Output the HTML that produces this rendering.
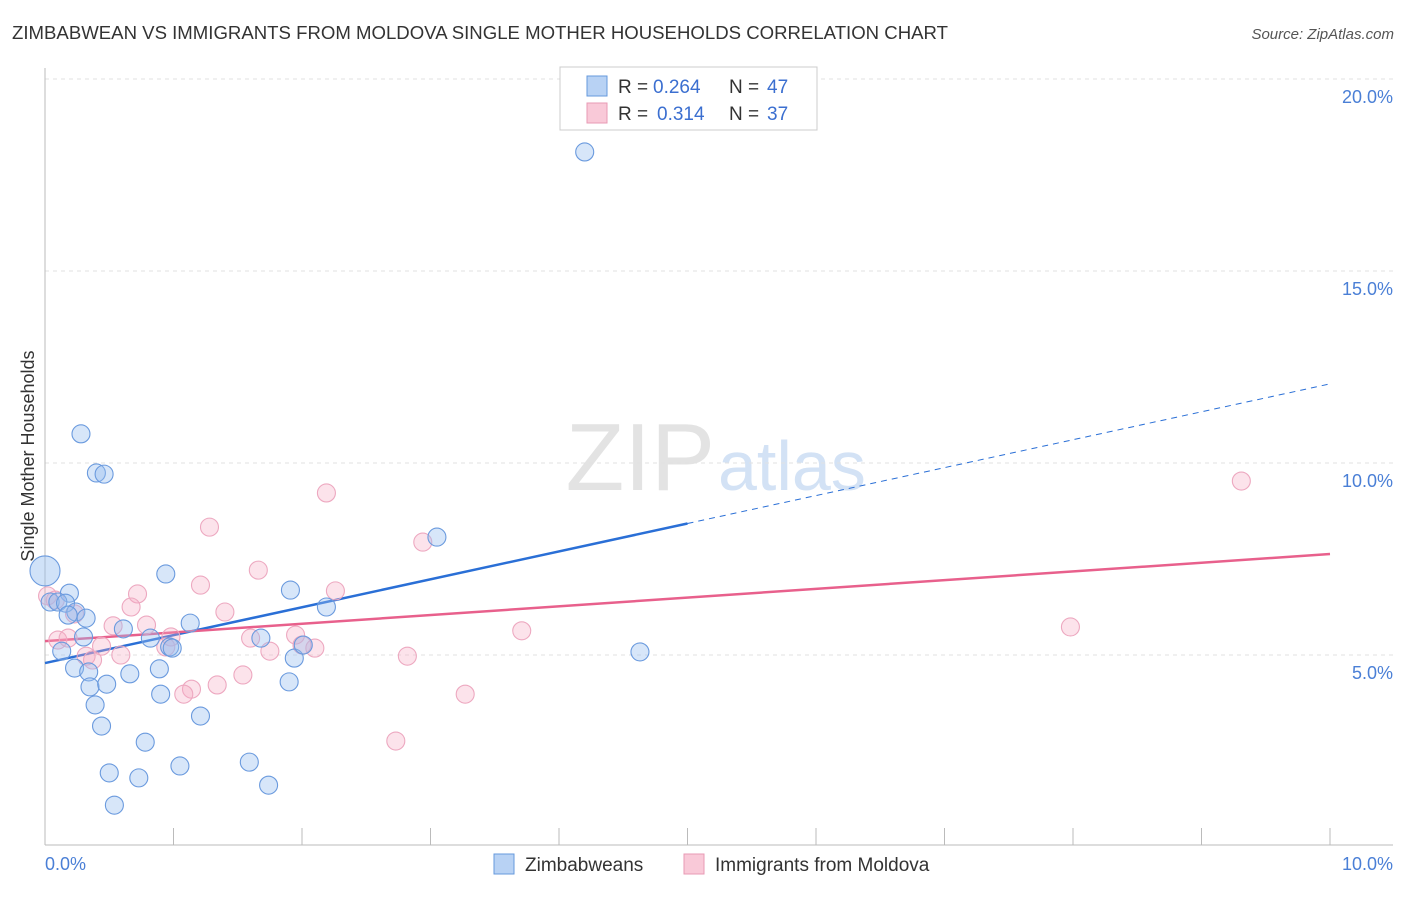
<!DOCTYPE html>
<html><head><meta charset="utf-8"><style>
body{margin:0;background:#fff;font-family:"Liberation Sans",sans-serif;}
svg text{font-family:"Liberation Sans",sans-serif;}
</style></head><body>
<svg id="c" width="1406" height="892" xmlns="http://www.w3.org/2000/svg">
<text x="12" y="39" font-size="18.6" fill="#333">ZIMBABWEAN VS IMMIGRANTS FROM MOLDOVA SINGLE MOTHER HOUSEHOLDS CORRELATION CHART</text>
<text x="1394" y="39" font-size="15" fill="#555" text-anchor="end" font-style="italic">Source: ZipAtlas.com</text>
<text x="715" y="490" font-size="96" fill="#e3e3e3" text-anchor="end" font-family="Liberation Serif">ZIP</text>
<text x="718" y="490" font-size="70" fill="#d3e2f5">atlas</text>
<g id="grid"></g>
<line x1="45" y1="68" x2="45" y2="845" stroke="#bbb"/>
<line x1="45" y1="845" x2="1393" y2="845" stroke="#bbb"/>
<text transform="translate(34,456) rotate(-90)" font-size="18" fill="#333" text-anchor="middle">Single Mother Households</text>
<text x="45" y="870" font-size="18" fill="#4a7fd6">0.0%</text>
<text x="1393" y="870" font-size="18" fill="#4a7fd6" text-anchor="end">10.0%</text>
<g id="lines"></g>
<g id="pts"></g>
<g>
<rect x="560" y="67" width="257" height="63" fill="#fff" stroke="#ccc"/>
<rect x="587" y="76" width="20" height="20" fill="#b8d2f4" stroke="#6699dd"/>
<rect x="587" y="103" width="20" height="20" fill="#f9c9d8" stroke="#e89ab4"/>
<text x="618" y="93" font-size="19" fill="#333">R =</text>
<text x="653" y="93" font-size="19" fill="#3b6fd0">0.264</text>
<text x="729" y="93" font-size="19" fill="#333">N =</text>
<text x="767" y="93" font-size="19" fill="#3b6fd0">47</text>
<text x="618" y="120" font-size="19" fill="#333">R =</text>
<text x="657" y="120" font-size="19" fill="#3b6fd0">0.314</text>
<text x="729" y="120" font-size="19" fill="#333">N =</text>
<text x="767" y="120" font-size="19" fill="#3b6fd0">37</text>
</g>
<g>
<rect x="494" y="854" width="20" height="20" fill="#b8d2f4" stroke="#6699dd"/>
<text x="525" y="871" font-size="19" fill="#333">Zimbabweans</text>
<rect x="684" y="854" width="20" height="20" fill="#f9c9d8" stroke="#e89ab4"/>
<text x="715" y="871" font-size="19" fill="#333">Immigrants from Moldova</text>
</g>
</svg>
<script>
const yTicks=[5,10,15,20];
const yTickLabels=["5.0%","10.0%","15.0%","20.0%"];
const blueX=[4.20,0.28,0.40,0.46,0.19,0.04,0.10,0.16,0.24,0.18,0.32,0.30,0.61,0.13,0.23,0.34,0.35,0.48,0.66,0.89,0.90,0.39,0.44,0.78,0.50,0.73,0.54,1.05,0.94,1.13,0.82,0.97,0.99,1.21,1.59,1.74,1.68,1.91,1.94,1.90,2.01,2.19,3.05,4.63];
const blueY=[18.10,10.76,9.74,9.71,6.61,6.38,6.38,6.35,6.12,6.04,5.96,5.47,5.68,5.10,4.66,4.56,4.17,4.24,4.51,4.64,3.98,3.70,3.15,2.73,1.93,1.80,1.09,2.11,7.11,5.83,5.44,5.21,5.18,3.41,2.21,1.61,5.44,6.69,4.92,4.30,5.26,6.25,8.07,5.08];
const pinkX=[9.31,2.19,1.28,1.66,1.21,0.72,0.67,1.40,0.53,0.79,2.26,2.94,0.08,0.02,0.10,0.18,0.23,0.44,0.32,0.37,0.59,0.98,0.94,1.60,1.75,1.95,2.00,2.10,1.54,1.34,1.14,1.08,2.82,3.27,2.73,3.71,7.98];
const pinkY=[9.53,9.22,8.33,7.21,6.82,6.59,6.25,6.12,5.76,5.78,6.67,7.94,6.43,6.54,5.39,5.44,6.07,5.23,4.97,4.87,5.00,5.47,5.21,5.44,5.10,5.52,5.26,5.18,4.48,4.22,4.11,3.98,4.97,3.98,2.76,5.63,5.73];
const blueTrend=[4.79,12.06];
const pinkTrend=[5.36,7.63];
const X=v=>45+v*128.5, Y=v=>847-v*38.4;
const NS="http://www.w3.org/2000/svg";
function mk(t,a,p){const e=document.createElementNS(NS,t);for(const k in a)e.setAttribute(k,a[k]);p.appendChild(e);return e;}
const g=document.getElementById('grid');
yTicks.forEach((t,i)=>{
 const l=mk('line',{x1:45,x2:1393,y1:Y(t),y2:Y(t),stroke:'#e2e2e2','stroke-dasharray':'4,4'},g);
 
 
 const tx=mk('text',{x:1393,y:Y(t)+24,'font-size':18,fill:'#4a7fd6','text-anchor':'end'},g);
 tx.textContent=yTickLabels[i];
 
 
});
for(let i=1;i<=10;i++){
 const l=mk('line',{x1:X(i),x2:X(i),y1:828,y2:845,stroke:'#bbb'},g);
 
 
}
const L=document.getElementById('lines');
const b1=mk('line',{x1:X(0),y1:Y(blueTrend[0]),x2:X(5),y2:Y(blueTrend[0]+(blueTrend[1]-blueTrend[0])*0.5),stroke:'#2a6fd6','stroke-width':2.5},L);


const b2=mk('line',{x1:X(5),y1:Y(blueTrend[0]+(blueTrend[1]-blueTrend[0])*0.5),x2:X(10),y2:Y(blueTrend[1]),stroke:'#2a6fd6','stroke-width':1,'stroke-dasharray':'6,5'},L);


const p1=mk('line',{x1:X(0),y1:Y(pinkTrend[0]),x2:X(10),y2:Y(pinkTrend[1]),stroke:'#e8608c','stroke-width':2.5},L);


const P=document.getElementById('pts');
pinkX.forEach((x,i)=>{
 const c=mk('circle',{cx:X(x),cy:Y(pinkY[i]),r:9,fill:'rgba(245,170,195,0.33)',stroke:'#eda8c0','stroke-width':1.1},P);
 
 
});
blueX.forEach((x,i)=>{
 const c=mk('circle',{cx:X(x),cy:Y(blueY[i]),r:9,fill:'rgba(150,190,240,0.38)',stroke:'#6a9ade','stroke-width':1.1},P);
 
 
});
const big=mk('circle',{cx:X(0),cy:Y(7.19),r:15,fill:'rgba(150,190,240,0.45)',stroke:'#6a9ade','stroke-width':1.1},P);


</script>
</body></html>
